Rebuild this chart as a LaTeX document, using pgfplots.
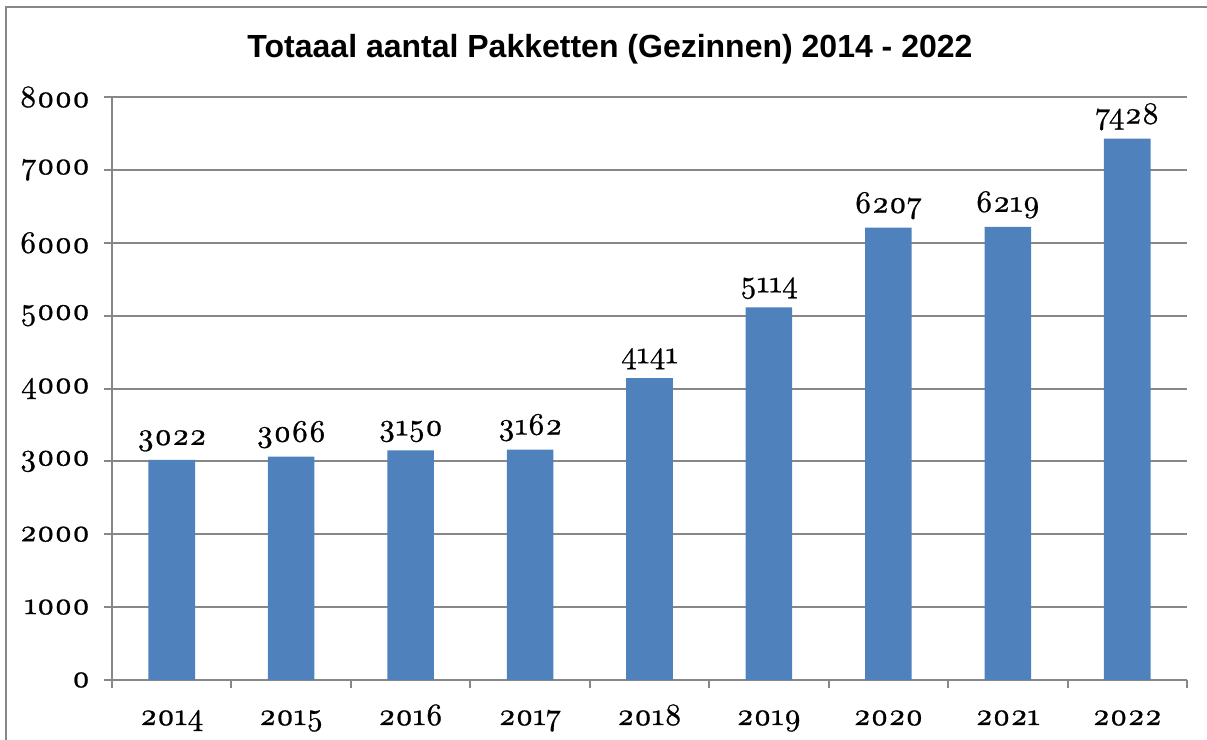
\documentclass[border=0pt]{standalone}
\usepackage{fontspec}
\setmainfont{lmroman10}[Extension=.otf,UprightFont=*-regular,BoldFont=*-bold,ItalicFont=*-italic,Numbers=OldStyle,FakeBold=0.8]
\newfontfamily\titlefont{Liberation Sans}
\usepackage{pgfplots}
\pgfplotsset{compat=1.18}
\definecolor{barblue}{HTML}{4F81BD}
\definecolor{gridgray}{HTML}{878787}
\begin{document}
\begin{tikzpicture}
\useasboundingbox (0,0) rectangle (603.5pt,370pt);
\draw[gridgray,line width=1pt] (3pt,0) -- (3pt,366.5pt) -- (603.5pt,366.5pt);
\node[font=\titlefont\bfseries\fontsize{16}{19}\selectfont, anchor=base] at (305pt,341pt)
  {Totaaal aantal Pakketten (Gezinnen) 2014 - 2022};
\begin{axis}[
  at={(56pt,30pt)}, anchor=south west,
  scale only axis, width=537.5pt, height=291.5pt,
  ymin=0, ymax=8000, ytick={0,1000,...,8000},
  xmin=-0.5, xmax=8.5, xtick={0,...,8},
  xticklabels={2014,2015,2016,2017,2018,2019,2020,2021,2022},
  minor xtick={-0.5,0.5,...,8.5},
  axis x line*=bottom, axis y line*=left,
  axis line style={gridgray, line width=1pt, -},
  ymajorgrids, grid style={gridgray, line width=1pt},
  tick align=outside, major tick length=4pt, minor tick length=4pt,
  tick style={gridgray, line width=1pt},
  major x tick style={draw=none},
  tick label style={font=\fontsize{15.5}{17}\selectfont},
  xticklabel style={anchor=base, yshift=-18.5pt},
  yticklabel style={xshift=-3.5pt},
  /pgf/number format/assume math mode=true,
  /pgf/number format/set thousands separator={},
  ybar, bar width=0.39,
  nodes near coords,
  every node near coord/.append style={font=\fontsize{15.5}{17}\selectfont, black, anchor=base, yshift=7.5pt},
  clip=false,
]
\addplot[fill=barblue, draw=none] coordinates {
  (0,3022) (1,3066) (2,3150) (3,3162) (4,4141)
  (5,5114) (6,6207) (7,6219) (8,7428)
};
\end{axis}
\end{tikzpicture}
\end{document}
